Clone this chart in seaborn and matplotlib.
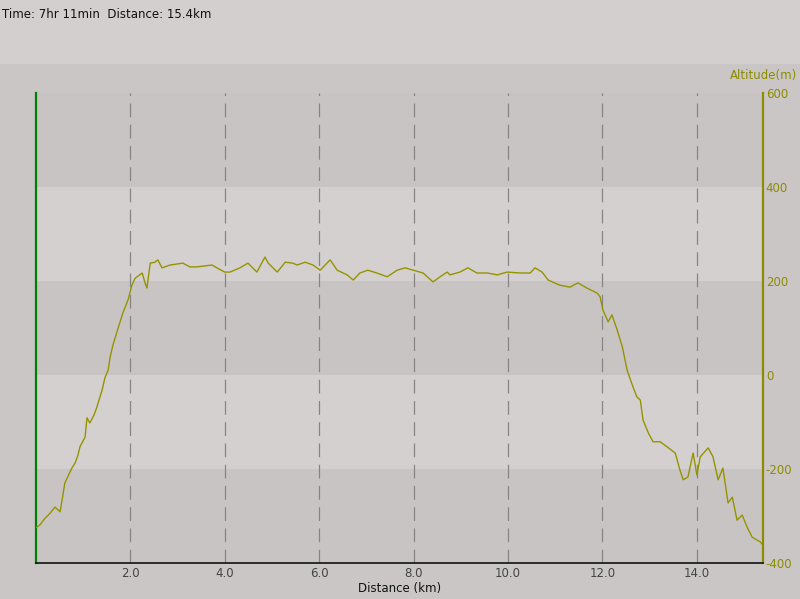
import numpy as np
import seaborn as sns
import matplotlib.pyplot as plt
import pandas as pd

# altitude profile
dist_km = [0.00, 0.08, 0.19, 0.30, 0.40, 0.51, 0.57, 0.61, 0.68, 0.76, 0.83, 0.89, 0.93,
           1.04, 1.08, 1.14, 1.23, 1.29, 1.40, 1.46, 1.53, 1.57, 1.63, 1.74, 1.84, 1.95,
           2.03, 2.10, 2.14, 2.25, 2.31, 2.35, 2.42, 2.52, 2.58, 2.67, 2.84, 3.11, 3.26,
           3.41, 3.73, 3.83, 4.00, 4.11, 4.32, 4.49, 4.68, 4.85, 4.92, 5.11, 5.28, 5.44,
           5.53, 5.70, 5.87, 6.02, 6.23, 6.38, 6.59, 6.72, 6.86, 7.03, 7.22, 7.44, 7.65,
           7.82, 7.99, 8.20, 8.41, 8.56, 8.71, 8.77, 8.98, 9.15, 9.34, 9.56, 9.77, 9.98,
           10.25, 10.47, 10.57, 10.72, 10.85, 11.10, 11.31, 11.48, 11.67, 11.89, 11.95,
           12.01, 12.12, 12.20, 12.31, 12.42, 12.52, 12.63, 12.73, 12.80, 12.86, 12.97,
           13.07, 13.22, 13.37, 13.54, 13.64, 13.71, 13.81, 13.92, 14.00, 14.07, 14.24,
           14.34, 14.45, 14.55, 14.66, 14.75, 14.85, 14.96, 15.06, 15.17, 15.34, 15.40]
alt_m = [-325, -319, -305, -294, -281, -291, -255, -230, -215, -198, -187, -170, -153,
         -132, -91, -102, -85, -68, -32, -6, 11, 38, 64, 100, 132, 160,
         191, 206, 209, 217, 196, 185, 238, 240, 245, 228, 234, 238, 230,
         230, 234, 228, 219, 219, 228, 238, 219, 251, 238, 219, 240, 238,
         234, 240, 234, 223, 245, 223, 213, 202, 217, 223, 217, 209, 223,
         228, 223, 217, 198, 209, 219, 213, 219, 228, 217, 217, 213, 219,
         217, 217, 228, 219, 202, 191, 187, 196, 185, 174, 166,
         138, 113, 128, 96, 60, 11, -21, -47, -53, -96, -123,
         -142, -142, -153, -166, -202, -223, -217, -166, -213, -174, -155,
         -174, -223, -198, -272, -260, -309, -298, -323, -345, -355, -362]

x_ticks = [2.0, 4.0, 6.0, 8.0, 10.0, 12.0, 14.0]
y_ticks = [-400, -200, 0, 200, 400, 600]
header = "Time: 7hr 11min  Distance: 15.4km"

df = pd.DataFrame({"Distance": dist_km, "Altitude": alt_m})

sns.set_theme(style="white")
plt.rcParams['font.family'] = ['DejaVu Sans']

olive = "#8c8c00"
fig = plt.figure(figsize=(8, 5.99), dpi=100, facecolor="#cbc6c6")
# lighter header strip
fig.patches.append(plt.Rectangle((0, 1 - 63 / 599), 1, 63 / 599, transform=fig.transFigure,
                                 color="#d4cfcf", zorder=0))
fig.text(0.003, 0.987, header, fontsize=8.5, color="#111111", va="top", ha="left")

ax = fig.add_axes([36 / 800, 36 / 599, 727 / 800, 470 / 599])
ax.set_facecolor("#c9c4c4")

# alternating bands
for i, (lo, hi) in enumerate(zip(y_ticks[:-1], y_ticks[1:])):
    if i % 2 == 1:
        ax.axhspan(lo, hi, color="#d5d0d0", zorder=0, lw=0)

for xt in x_ticks:
    ax.axvline(xt, color="#858585", lw=0.9, dashes=(11, 6), zorder=1)

sns.lineplot(data=df, x="Distance", y="Altitude", ax=ax, color="#949400", lw=1.0, zorder=3)

ax.set_xlim(0, 15.4)
ax.set_ylim(-400, 600)
ax.set_xticks(x_ticks)
ax.set_xticklabels([f"{v:.1f}" for v in x_ticks], fontsize=8.5, color="#444444")
ax.yaxis.tick_right()
ax.set_yticks(y_ticks)
ax.set_yticklabels([str(v) for v in y_ticks], fontsize=8.5, color=olive)
ax.tick_params(axis="both", length=0, pad=3)
ax.tick_params(axis="y", pad=2)
ax.set_xlabel("Distance (km)", fontsize=8.5, color="#111111", labelpad=1)
ax.set_ylabel("")
ax.grid(False)

ax.spines["top"].set_visible(False)
ax.spines["left"].set_color("#008000")
ax.spines["left"].set_linewidth(1.6)
ax.spines["right"].set_color(olive)
ax.spines["right"].set_linewidth(1.6)
ax.spines["bottom"].set_color("#111111")
ax.spines["bottom"].set_linewidth(1.2)

fig.text(797 / 800, 1 - 75 / 599, "Altitude(m)", fontsize=8.5, color=olive,
         ha="right", va="center")

fig.savefig("out.png", dpi=100, facecolor=fig.get_facecolor())
